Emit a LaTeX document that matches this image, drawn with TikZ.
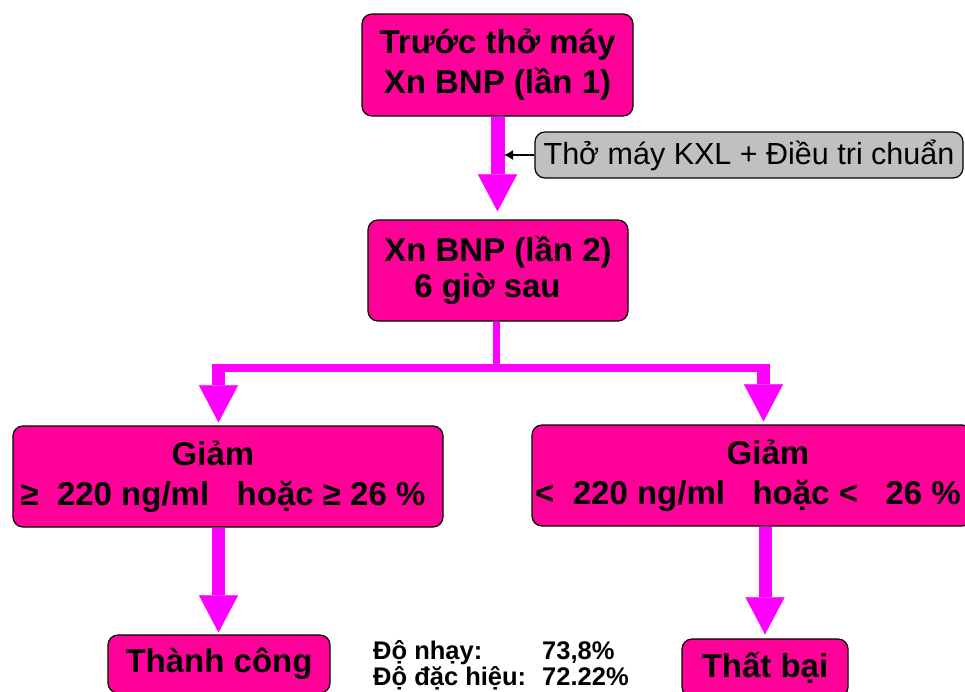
\documentclass[tikz,border=0pt]{standalone}
\usepackage{fontspec}
\setmainfont{Liberation Sans}
\usetikzlibrary{arrows.meta}

\definecolor{boxpink}{RGB}{255,0,153}
\definecolor{flowpink}{RGB}{255,0,255}
\definecolor{notegrey}{RGB}{192,192,192}

\tikzset{
  pinkbox/.style={draw=black, line width=1.2pt, fill=boxpink, rounded corners=10pt,
    inner sep=0pt, align=center, font=\bfseries\fontsize{33}{40}\selectfont},
  notebox/.style={draw=black, line width=1.2pt, fill=notegrey, rounded corners=10pt,
    inner sep=0pt, minimum width=428pt, minimum height=46pt, font=\fontsize{30.5}{36}\selectfont},
  pipe/.style={draw=flowpink},
  flow/.style={draw=flowpink, line width=14pt,
    -{Triangle[width=39pt,length=37pt,line width=0.1pt]}},
}

\begin{document}
\begin{tikzpicture}[x=1pt,y=-1pt]
\useasboundingbox (0,0) rectangle (965,691);
\clip (0,0) rectangle (965,691);

% boxes
\node[pinkbox, minimum width=271pt, minimum height=102pt] (before) at (497.5,65) {Trước thở máy\\Xn BNP (lần 1)};
\node[pinkbox, minimum width=260pt, minimum height=101pt, align=left,
  font=\bfseries\fontsize{33}{36}\selectfont] (second) at (498,270.5) {Xn BNP (lần 2)\\\hspace*{30pt}6 giờ sau};
\node[notebox] (note) at (749,155) {Thở máy KXL + Điều tri chuẩn};

\node[pinkbox, minimum width=430pt, minimum height=101pt] (drop) at (228,476.5)
  {Giảm\hspace*{30pt}\\≥\ \ 220 ng/ml\ \ \ hoặc ≥ 26 \%\hspace*{10pt}};
\node[pinkbox, minimum width=440pt, minimum height=101pt] (nodrop) at (752,475.5)
  {\hspace*{32pt}Giảm\\<\ \ 220 ng/ml\ \ \ hoặc <\ \ \ 26 \%\hspace*{8pt}};

\node[pinkbox, minimum width=222pt, minimum height=58pt] (success) at (219,664) {\raisebox{7pt}{Thành công}};
\node[pinkbox, minimum width=166pt, minimum height=58pt] (failure) at (765,668) {\raisebox{6pt}{Thất bại}};

\node[anchor=base west, inner sep=0pt, font=\bfseries\fontsize{25.5}{26}\selectfont] (stats) at (373,659)
  {\begin{tabular}[t]{@{}l@{\hspace{16pt}}l@{}}Độ nhạy: & 73,8\%\\[0pt] Độ đặc hiệu: & 72.22\%\end{tabular}};

% connectors
\coordinate (shaftedge) at (504,155);
\coordinate (fork) at (496,368);
\coordinate (forkleft) at (218.5,368);
\coordinate (forkright) at (763.5,368);

\draw[flow, shorten >=8pt] (before.south) -- (before.south |- second.north);
\draw[-{Latex[length=9pt,width=10pt]}, line width=1.4pt] (note.west) -- (note.west -| shaftedge);

\draw[pipe, line width=7pt] (second.south -| fork) -- (fork);
\draw[pipe, line width=8pt, shorten <=-6.5pt, shorten >=-6.5pt] (forkleft) -- (forkright);
\draw[flow, line width=13pt, shorten >=3pt] (forkleft) -- (forkleft |- drop.north);
\draw[flow, line width=13pt, shorten >=3pt] (forkright) -- (forkright |- nodrop.north);

\draw[flow, line width=13pt, shorten >=2pt] (forkleft |- drop.south) -- (forkleft |- success.north);
\draw[flow, line width=13pt, shorten >=4pt] (failure.north |- nodrop.south) -- (failure.north);

\end{tikzpicture}
\end{document}
